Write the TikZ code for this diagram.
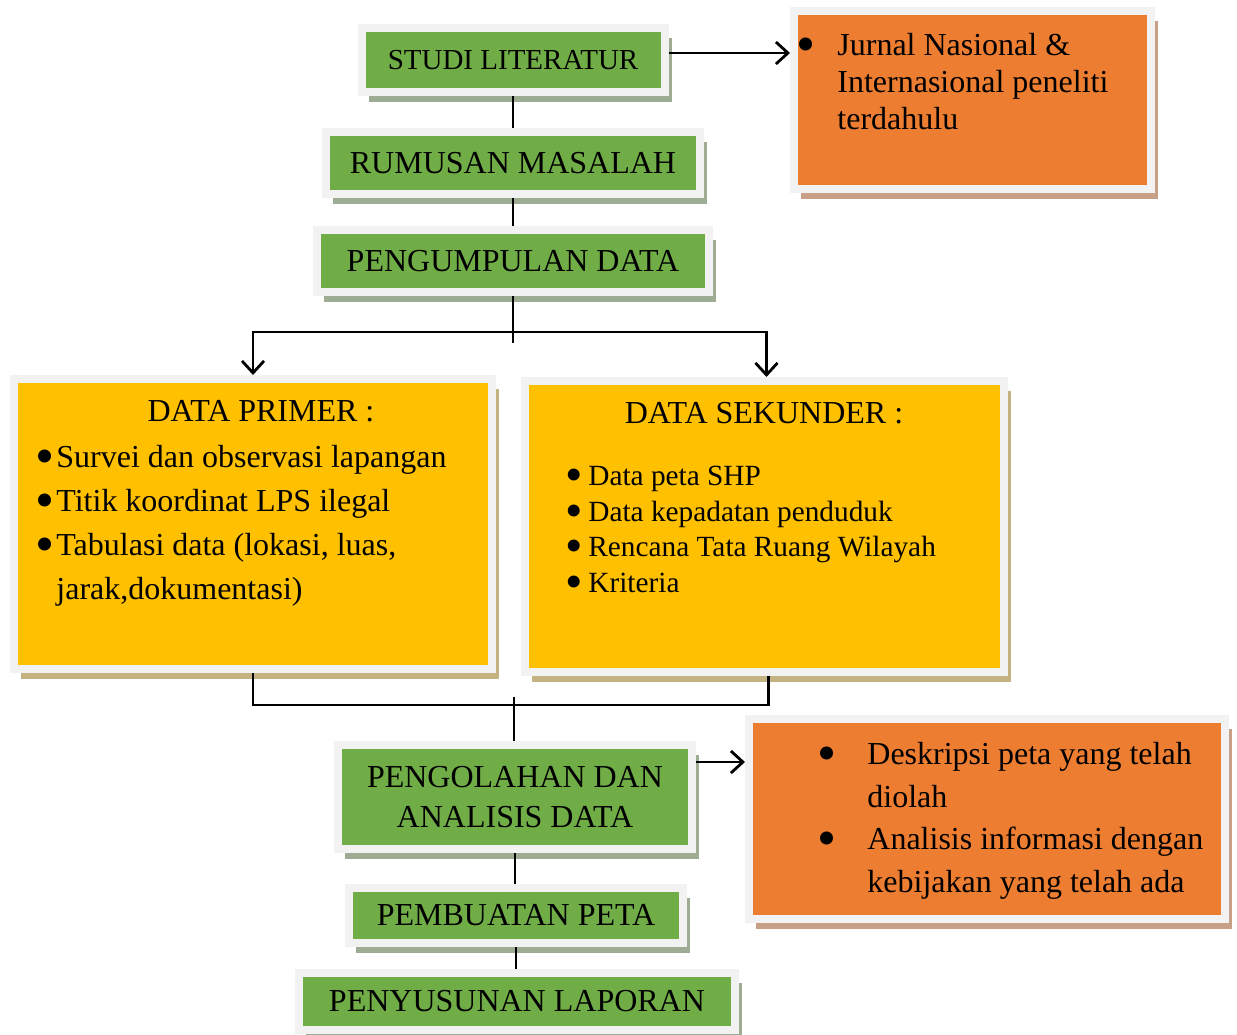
\documentclass[tikz,border=0pt]{standalone}
\usepackage{fontspec}
\usepackage{graphicx}
\setmainfont{Liberation Serif}
\usetikzlibrary{positioning, calc, shadows}
\usetikzlibrary{arrows.meta}

\newcommand{\itemdot}[1]{\rlap{\hspace*{-4pt}\raisebox{-0.2em}{\scalebox{1.7}{\textbullet}}}\hspace*{#1}}

\begin{document}
\begin{tikzpicture}[x=1pt, y=-1pt, font=\fontsize{32}{40}\selectfont, align=center, >={Straight Barb[length=12pt,width=22pt]}, line width=2.8pt]
        % Define colors
        \definecolor{boxgreen}{HTML}{70AD47}
        \definecolor{boxyellow}{HTML}{FFC000}
        \definecolor{boxorange}{HTML}{ED7D31}
        \definecolor{boxrim}{HTML}{F2F2F2}
        \definecolor{greenshade}{RGB}{158,172,148}
        \definecolor{yellowshade}{RGB}{196,178,128}
        \definecolor{orangeshade}{RGB}{200,160,135}

        \tikzset{
            box/.style={draw=boxrim, line width=8pt, inner sep=0pt},
            greenbox/.style={box, fill=boxgreen, general shadow={shadow xshift=7pt, shadow yshift=-10pt, fill=greenshade}},
            yellowbox/.style={box, fill=boxyellow, general shadow={shadow xshift=7pt, shadow yshift=-10pt, fill=yellowshade}},
            orangebox/.style={box, fill=boxorange, general shadow={shadow xshift=7pt, shadow yshift=-10pt, fill=orangeshade}},
            listtext/.style={align=left, inner sep=0pt, anchor=north west}
        }

        \useasboundingbox (0,0) rectangle (1237,1034);

        % Nodes
        \node[greenbox, minimum width=303pt, minimum height=64pt, font=\fontsize{29}{36}\selectfont] (studi) at (513,60) {STUDI LITERATUR};
        \node[greenbox, minimum width=374pt, minimum height=62pt] (rumusan) at (513,163) {RUMUSAN MASALAH};
        \node[greenbox, minimum width=392pt, minimum height=62pt] (pengumpulan) at (513,261) {PENGUMPULAN DATA};

        \node[orangebox, minimum width=357pt, minimum height=178pt] (jurnal) at (972.5,100) {};
        \node[listtext, font=\fontsize{32}{37}\selectfont] (jurnaltext) at (799,32)
            {\itemdot{37pt}Jurnal Nasional \&\\ \hspace*{37pt}Internasional peneliti\\ \hspace*{37pt}terdahulu};

        \node[yellowbox, minimum width=478pt, minimum height=290pt] (primer) at (253,524) {};
        \node[anchor=base] (primertitle) at (261,421) {DATA PRIMER :};
        \node[listtext, font=\fontsize{32}{44}\selectfont] (primerlist) at (38,444)
            {\itemdot{17pt}Survei dan observasi lapangan\\ \itemdot{17pt}Titik koordinat LPS ilegal\\
             \itemdot{17pt}Tabulasi data (lokasi, luas,\\ \hspace*{17pt}jarak,dokumentasi)};

        \node[yellowbox, minimum width=479pt, minimum height=291pt] (sekunder) at (764.5,526.5) {};
        \node[anchor=base] (sekundertitle) at (764,423) {DATA SEKUNDER :};
        \node[listtext, font=\fontsize{29.3}{35.5}\selectfont] (sekunderlist) at (568,465)
            {\itemdot{19pt}Data peta SHP\\ \itemdot{19pt}Data kepadatan penduduk\\
             \itemdot{19pt}Rencana Tata Ruang Wilayah\\ \itemdot{19pt}Kriteria};

        \node[greenbox, minimum width=354pt, minimum height=104pt] (pengolahan) at (515,797) {PENGOLAHAN DAN\\ ANALISIS DATA};

        \node[orangebox, minimum width=476pt, minimum height=200pt] (deskripsi) at (987,819) {};
        \node[listtext, font=\fontsize{32}{42.5}\selectfont] (deskripsitext) at (820,741)
            {\itemdot{46pt}Deskripsi peta yang telah\\ \hspace*{46pt}diolah\\
             \itemdot{46pt}Analisis informasi dengan\\ \hspace*{46pt}kebijakan yang telah ada};

        \node[greenbox, minimum width=334pt, minimum height=55pt] (pembuatan) at (516,915.5) {PEMBUATAN PETA};
        \node[greenbox, minimum width=436pt, minimum height=57pt] (penyusunan) at (517,1001.5) {PENYUSUNAN LAPORAN};

        \coordinate (split) at (513,332);
        \coordinate (splitend) at (513,343);
        \coordinate (merge) at (514,705);
        \coordinate (mergetop) at (514,697);

        % Edges
        \draw[->] ([yshift=7pt]studi.east) -- ([yshift=7pt]studi.east -| jurnal.west);
        \draw (studi) -- (rumusan);
        \draw (rumusan) -- (pengumpulan);
        \draw (pengumpulan.south) -- (splitend);
        \draw[->] (split) -| (primer.north);
        \draw[->] (split) -| ([xshift=2pt]sekunder.north);
        \draw (primer.south) |- (merge) -| ([xshift=4pt]sekunder.south);
        \draw (mergetop) -- (mergetop |- pengolahan.north);
        \draw[->] ([yshift=35pt]pengolahan.east) -- ([yshift=35pt]pengolahan.east -| deskripsi.west);
        \draw (pengolahan.south) -- (pengolahan.south |- pembuatan.north);
        \draw (pembuatan.south) -- (pembuatan.south |- penyusunan.north);
    \end{tikzpicture}
\end{document}
